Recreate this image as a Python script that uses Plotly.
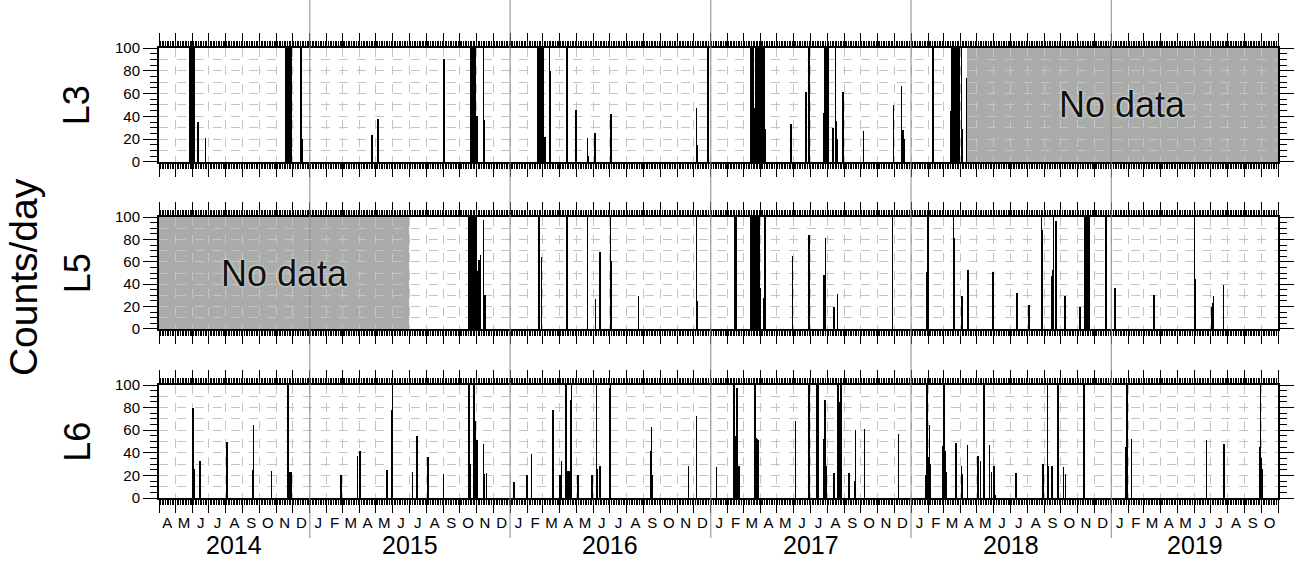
import pandas as pd
import plotly.graph_objects as go

# ---------------- data ----------------
X_START = "2014-04-01"
X_END = "2019-11-01"

PANELS = ["L3", "L5", "L6"]
MONTH_LETTERS = ["J", "F", "M", "A", "M", "J", "J", "A", "S", "O", "N", "D"]
YEARS = ["2014", "2015", "2016", "2017", "2018", "2019"]
Y_TICKS = [0, 20, 40, 60, 80, 100]

NODATA_L3 = ("2018-04-13", "2019-11-01")
NODATA_L5 = ("2014-04-01", "2015-07-01")

L3_DATES = [
    "2014-05-27", "2014-05-28", "2014-05-29", "2014-05-30", "2014-05-31", "2014-06-01",
    "2014-06-02", "2014-06-03", "2014-06-04", "2014-06-05", "2014-06-11", "2014-06-25",
    "2014-11-18", "2014-11-19", "2014-11-20", "2014-11-21", "2014-11-22", "2014-11-23",
    "2014-11-24", "2014-11-25", "2014-11-26", "2014-11-27", "2014-11-28",
    "2014-12-16", "2014-12-17", "2014-12-18",
    "2015-04-24", "2015-05-05", "2015-09-03",
    "2015-10-22", "2015-10-23", "2015-10-24", "2015-10-25", "2015-10-26", "2015-10-27",
    "2015-10-28", "2015-10-29", "2015-10-30", "2015-11-02", "2015-11-14", "2015-11-15",
    "2016-02-21", "2016-02-22", "2016-02-23", "2016-02-24", "2016-02-25", "2016-02-26",
    "2016-02-27", "2016-02-28", "2016-02-29", "2016-03-01", "2016-03-05",
    "2016-03-13", "2016-03-14", "2016-04-13", "2016-04-14", "2016-04-15",
    "2016-04-30", "2016-05-21", "2016-05-22", "2016-06-04", "2016-07-03",
    "2016-12-06", "2016-12-07", "2016-12-27", "2016-12-28",
    "2017-03-15", "2017-03-16", "2017-03-17", "2017-03-18", "2017-03-19", "2017-03-20",
    "2017-03-21", "2017-03-22", "2017-03-24", "2017-03-25", "2017-03-26", "2017-03-27",
    "2017-03-28", "2017-03-29", "2017-03-30", "2017-03-31", "2017-04-01", "2017-04-02",
    "2017-04-03", "2017-04-06", "2017-04-07", "2017-04-08", "2017-04-09", "2017-04-11",
    "2017-05-27", "2017-06-24", "2017-06-29", "2017-07-26",
    "2017-07-28", "2017-07-29", "2017-07-30", "2017-07-31", "2017-08-01", "2017-08-02",
    "2017-08-03", "2017-08-12", "2017-08-16", "2017-08-18", "2017-08-19", "2017-08-30",
    "2017-10-06", "2017-11-30", "2017-12-15", "2017-12-17", "2017-12-20",
    "2018-02-10", "2018-03-14", "2018-03-15",
    "2018-03-16", "2018-03-17", "2018-03-18", "2018-03-19", "2018-03-20", "2018-03-21",
    "2018-03-22", "2018-03-23", "2018-03-24", "2018-03-25", "2018-03-26", "2018-03-27",
    "2018-03-28", "2018-03-29", "2018-04-03", "2018-04-04", "2018-04-12",
]
L3_COUNTS = [
    100, 100, 100, 100, 100, 100,
    100, 100, 100, 22, 35, 21,
    21, 100, 100, 100, 100, 100,
    100, 100, 55, 72, 100,
    100, 100, 20,
    24, 38, 90,
    100, 100, 100, 100, 100, 100,
    100, 85, 100, 40, 100, 37,
    100, 100, 100, 100, 100, 100,
    100, 100, 100, 100, 22,
    100, 80, 100, 100, 100,
    46, 21, 5, 25, 42,
    47, 15, 100, 16,
    100, 100, 100, 100, 100, 100,
    47, 40, 100, 100, 100, 100,
    100, 100, 100, 100, 100, 100,
    100, 100, 100, 100, 100, 29,
    33, 61, 100, 43,
    100, 100, 100, 100, 100, 100,
    100, 30, 100, 36, 20, 61,
    27, 50, 67, 28, 20,
    100, 33, 45,
    100, 100, 100, 100, 100, 100,
    100, 100, 100, 100, 100, 100,
    100, 100, 100, 29, 74,
]

L5_DATES = [
    "2015-10-18", "2015-10-19", "2015-10-20", "2015-10-21", "2015-10-22", "2015-10-23",
    "2015-10-24", "2015-10-25", "2015-10-26", "2015-10-27", "2015-10-28", "2015-10-29",
    "2015-10-30", "2015-10-31", "2015-11-01", "2015-11-02", "2015-11-05", "2015-11-08",
    "2015-11-14", "2015-11-16",
    "2016-02-23", "2016-02-27", "2016-04-13", "2016-04-14", "2016-05-21", "2016-06-05",
    "2016-06-13", "2016-07-02", "2016-07-03", "2016-08-22", "2016-12-06", "2016-12-07",
    "2017-02-14", "2017-02-15", "2017-02-16",
    "2017-03-15", "2017-03-16", "2017-03-17", "2017-03-18", "2017-03-19", "2017-03-20",
    "2017-03-21", "2017-03-22", "2017-03-23", "2017-03-24", "2017-03-25", "2017-03-26",
    "2017-03-27", "2017-03-28", "2017-03-29", "2017-03-30", "2017-03-31", "2017-04-01",
    "2017-04-08", "2017-04-10", "2017-05-30", "2017-06-29", "2017-07-26", "2017-07-29",
    "2017-08-14", "2017-08-20", "2017-11-28",
    "2018-01-30", "2018-01-31", "2018-02-01", "2018-03-19", "2018-03-20", "2018-04-03",
    "2018-04-04", "2018-04-15", "2018-05-30", "2018-07-13", "2018-08-04", "2018-08-27",
    "2018-08-28", "2018-09-15", "2018-09-17", "2018-09-18", "2018-09-22", "2018-10-09",
    "2018-11-05", "2018-11-14", "2018-11-15", "2018-11-16", "2018-11-17", "2018-11-18",
    "2018-11-19", "2018-11-20", "2018-11-21", "2018-11-22", "2018-12-22",
    "2019-01-08", "2019-03-20", "2019-06-02", "2019-06-03", "2019-07-04", "2019-07-05",
    "2019-07-06", "2019-07-25",
]
L5_COUNTS = [
    100, 100, 100, 100, 100, 100,
    100, 100, 100, 100, 100, 100,
    100, 100, 100, 52, 62, 66,
    97, 30,
    100, 64, 56, 100, 100, 27,
    69, 100, 61, 29, 100, 25,
    100, 100, 100,
    100, 100, 100, 100, 100, 100,
    100, 100, 100, 100, 100, 100,
    100, 100, 100, 100, 100, 37,
    28, 100, 65, 84, 48, 81,
    20, 31, 100,
    51, 100, 100, 100, 81, 26,
    29, 53, 51, 32, 21, 100,
    88, 47, 53, 100, 96, 29,
    20, 100, 100, 100, 100, 100,
    100, 100, 100, 100, 100,
    37, 30, 100, 45, 20, 23,
    29, 39,
]

L6_DATES = [
    "2014-06-02", "2014-06-03", "2014-06-05", "2014-06-15", "2014-08-03", "2014-09-19",
    "2014-09-20", "2014-10-23", "2014-11-21", "2014-11-22", "2014-11-23", "2014-11-24",
    "2014-11-25", "2014-11-26", "2014-11-27", "2014-11-28",
    "2015-02-27", "2015-03-29", "2015-04-02", "2015-04-03", "2015-05-22", "2015-05-31",
    "2015-06-01", "2015-07-07", "2015-07-15", "2015-08-04", "2015-09-02", "2015-10-18",
    "2015-10-20", "2015-10-27", "2015-10-28", "2015-10-29", "2015-11-02", "2015-11-14",
    "2015-11-15", "2015-11-19",
    "2016-01-08", "2016-02-01", "2016-02-09", "2016-03-19", "2016-03-20", "2016-03-31",
    "2016-04-02", "2016-04-04", "2016-04-11", "2016-04-12", "2016-04-14", "2016-04-16",
    "2016-04-19", "2016-04-21", "2016-04-22", "2016-05-04", "2016-05-29", "2016-06-07",
    "2016-06-08", "2016-06-13", "2016-07-01", "2016-07-02", "2016-09-14", "2016-09-15",
    "2016-09-16", "2016-11-21", "2016-12-06",
    "2017-01-11", "2017-02-11", "2017-02-12", "2017-02-13", "2017-02-15", "2017-02-18",
    "2017-02-21", "2017-03-23", "2017-03-24", "2017-03-25", "2017-03-26", "2017-03-29",
    "2017-06-04", "2017-06-29", "2017-07-13", "2017-07-14", "2017-07-15", "2017-07-16",
    "2017-07-26", "2017-07-28", "2017-07-30", "2017-08-14", "2017-08-20", "2017-08-21",
    "2017-08-24", "2017-08-26", "2017-09-10", "2017-09-21", "2017-09-22", "2017-10-08",
    "2017-12-09",
    "2018-01-28", "2018-01-30", "2018-01-31", "2018-02-02", "2018-02-04", "2018-02-05",
    "2018-02-27", "2018-02-28", "2018-03-02", "2018-03-05", "2018-03-06", "2018-03-24",
    "2018-04-03", "2018-04-05", "2018-04-14", "2018-05-03", "2018-05-08", "2018-05-14",
    "2018-05-24", "2018-05-28", "2018-06-01", "2018-06-03", "2018-07-11", "2018-08-30",
    "2018-09-07", "2018-09-09", "2018-09-15", "2018-09-26", "2018-10-06", "2018-10-10",
    "2018-11-11", "2018-11-12", "2018-11-13",
    "2019-01-28", "2019-01-30", "2019-02-07", "2019-06-24", "2019-07-26", "2019-09-28",
    "2019-09-30", "2019-10-01", "2019-10-03",
]
L6_COUNTS = [
    80, 35, 26, 33, 50, 25,
    65, 24, 100, 100, 47, 23,
    23, 23, 23, 23,
    20, 37, 42, 26, 25, 78,
    100, 23, 55, 36, 21, 100,
    30, 100, 100, 68, 51, 48,
    21, 22,
    14, 20, 39, 78, 67, 20,
    20, 33, 27, 100, 20, 24,
    24, 87, 100, 20, 20, 100,
    26, 28, 97, 100, 42, 63,
    20, 28, 73,
    27, 100, 100, 27, 55, 97,
    28, 100, 53, 24, 52, 51,
    68, 100, 100, 100, 53, 100,
    52, 87, 28, 22, 100, 100,
    85, 100, 22, 15, 60, 61,
    57,
    20, 100, 86, 36, 65, 30,
    46, 28, 100, 42, 23, 49,
    28, 21, 47, 37, 33, 100,
    47, 23, 28, 3, 22, 30,
    100, 28, 28, 100, 27, 21,
    100, 100, 100,
    45, 100, 52, 51, 48, 45,
    100, 35, 26,
]

SERIES = {"L3": (L3_DATES, L3_COUNTS), "L5": (L5_DATES, L5_COUNTS), "L6": (L6_DATES, L6_COUNTS)}
NODATA = {"L3": NODATA_L3, "L5": NODATA_L5}

# ---------------- styling ----------------
FONT = "Liberation Sans, Arial, Helvetica, sans-serif"
DOMAINS = [[0.7467, 1.0], [0.3756, 0.6244], [0.0, 0.2511]]
DAY_MS = 86400000
GRID = "#c4c4c4"

month_starts = pd.date_range(X_START, X_END, freq="MS")
month_mids = [month_starts[i] + (month_starts[i + 1] - month_starts[i]) / 2
              for i in range(len(month_starts) - 1)]
month_text = [MONTH_LETTERS[d.month - 1] for d in month_starts[:-1]]

fig = go.Figure()
layout = {}
shapes = []
annotations = []

for i, name in enumerate(PANELS):
    n = i + 1
    xa = "x" if n == 1 else f"x{n}"
    ya = "y" if n == 1 else f"y{n}"
    xkey = "xaxis" if n == 1 else f"xaxis{n}"
    ykey = "yaxis" if n == 1 else f"yaxis{n}"
    dates, counts = SERIES[name]
    fig.add_trace(go.Bar(
        x=pd.to_datetime(dates), y=counts, width=DAY_MS,
        marker=dict(color="black", line=dict(width=0)),
        xaxis=xa, yaxis=ya, hoverinfo="x+y",
    ))
    layout[xkey] = dict(
        type="date", domain=[0, 1], anchor=ya, range=[X_START, X_END], automargin=False,
        tickmode="array", tickvals=list(month_starts), showticklabels=False,
        ticks="outside", ticklen=13, tickwidth=1, tickcolor="black",
        showline=True, linewidth=2, linecolor="black", mirror="ticks",
        showgrid=True, gridcolor=GRID, griddash="dash", gridwidth=1,
        minor=dict(tickmode="linear", tick0=X_START, dtick=3 * DAY_MS,
                   ticks="outside", ticklen=5, tickwidth=1, tickcolor="black", showgrid=False),
        zeroline=False, fixedrange=True,
    )
    layout[ykey] = dict(
        domain=DOMAINS[i], anchor=xa, range=[0, 100], automargin=False,
        tickmode="array", tickvals=Y_TICKS, ticktext=[str(v) for v in Y_TICKS],
        ticks="outside", ticklen=14, tickwidth=1, tickcolor="black",
        tickfont=dict(size=15, color="black", family=FONT),
        showline=True, linewidth=2, linecolor="black", mirror="ticks",
        showgrid=False, zeroline=False,
        minor=dict(tickmode="linear", tick0=0, dtick=5, ticks="outside",
                   ticklen=7, tickwidth=1, tickcolor="black", showgrid=False),
        fixedrange=True,
    )
    # overlay y-axis carrying the 10-unit dashed grid (needs a trace to exist)
    oy = f"y{n + 3}"
    layout[f"yaxis{n + 3}"] = dict(
        overlaying=ya, anchor=xa, range=[0, 100], tickmode="linear", tick0=0, dtick=10,
        automargin=False,
        showticklabels=False, ticks="", showgrid=True, gridcolor=GRID, griddash="dash",
        gridwidth=1, zeroline=False, showline=False, fixedrange=True,
    )
    fig.add_trace(go.Scatter(x=[X_START], y=[None], mode="markers", xaxis=xa, yaxis=oy,
                             hoverinfo="skip", showlegend=False))
    # panel label
    annotations.append(dict(
        text=name, xref="paper", yref=f"{ya} domain", x=-0.073, y=0.5,
        textangle=-90, showarrow=False, font=dict(size=36, color="black", family=FONT),
        xanchor="center", yanchor="middle",
    ))
    if name in NODATA:
        s, e = NODATA[name]
        shapes.append(dict(type="rect", xref=xa, yref=ya, x0=s, x1=e, y0=0, y1=100,
                           fillcolor="#a9aca8", line=dict(width=0), layer="below"))
        mid = pd.Timestamp(s) + (pd.Timestamp(e) - pd.Timestamp(s)) / 2
        annotations.append(dict(
            text="No data", xref=xa, yref=ya, x=mid, y=50, showarrow=False,
            font=dict(size=36, color="#111111", family=FONT, shadow="0px 0px 3px white"),
            xanchor="center", yanchor="middle",
        ))

# month letters on an overlay axis of the bottom panel
layout["xaxis7"] = dict(
    type="date", overlaying="x3", anchor="y3", side="bottom", range=[X_START, X_END],
    automargin=False,
    tickmode="array", tickvals=month_mids, ticktext=month_text,
    ticks="outside", ticklen=11, tickcolor="rgba(0,0,0,0)",
    tickfont=dict(size=15, color="black", family=FONT),
    showgrid=False, showline=False, zeroline=False, fixedrange=True,
)
fig.add_trace(go.Scatter(x=[X_START], y=[None], mode="markers", xaxis="x7", yaxis="y3",
                         hoverinfo="skip", showlegend=False))

# year labels and year separator lines
for y in YEARS:
    a = max(pd.Timestamp(f"{y}-01-01"), pd.Timestamp(X_START))
    b = min(pd.Timestamp(f"{int(y) + 1}-01-01"), pd.Timestamp(X_END))
    annotations.append(dict(
        text=y, xref="x3", yref="paper", x=a + (b - a) / 2, y=-0.105,
        showarrow=False, font=dict(size=25, color="black", family=FONT),
        xanchor="center", yanchor="middle",
    ))
    if pd.Timestamp(f"{y}-01-01") > pd.Timestamp(X_START):
        shapes.append(dict(type="line", xref="x3", yref="paper",
                           x0=f"{y}-01-01", x1=f"{y}-01-01", y0=-0.089, y1=1.11,
                           line=dict(color="#8a8a8a", width=1), layer="above"))

annotations.append(dict(
    text="Counts/day", xref="paper", yref="paper", x=-0.121, y=0.49,
    textangle=-90, showarrow=False, font=dict(size=39, color="black", family=FONT),
    xanchor="center", yanchor="middle",
))

fig.update_layout(
    **layout,
    width=1297, height=563, autosize=False,
    margin=dict(l=159, r=19, t=48, b=65, autoexpand=False),
    plot_bgcolor="white", paper_bgcolor="white",
    showlegend=False, bargap=0,
    font=dict(family=FONT, color="black"),
    shapes=shapes, annotations=annotations,
)

# remove the default page margin so the figure fills the window exactly
fig.write_html("out.html", config={"displayModeBar": False},
               post_script="document.body.style.margin='0';")
